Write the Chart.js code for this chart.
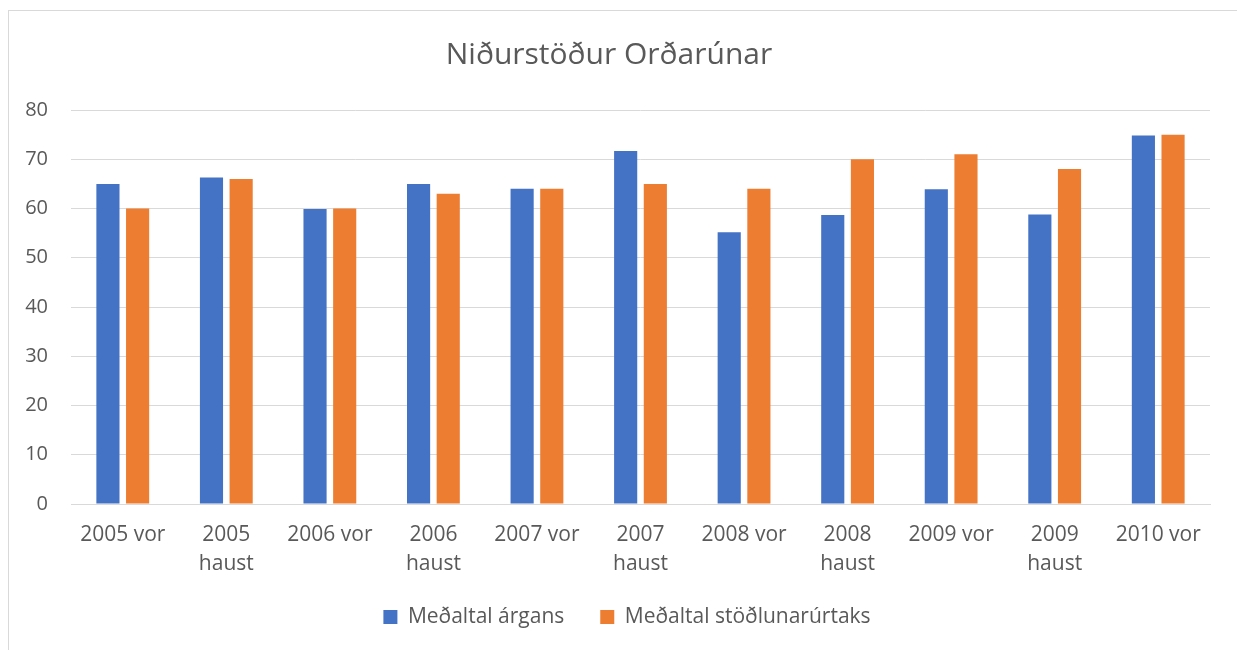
<!DOCTYPE html>
<html>
<head>
<meta charset="utf-8">
<script src="https://cdn.jsdelivr.net/npm/chart.js@4/dist/chart.umd.min.js"></script>
<style>
  html, body { margin: 0; padding: 0; background: #fff; }
  #wrap { position: absolute; left: 0; top: 0; width: 1237px; height: 650px; }
</style>
</head>
<body>
<div id="wrap"><canvas id="c" width="1237" height="650"></canvas></div>
<script>
const chartTitle = 'Niðurstöður Orðarúnar';
const categories = [
  '2005 vor', ['2005', 'haust'], '2006 vor', ['2006', 'haust'], '2007 vor', ['2007', 'haust'],
  '2008 vor', ['2008', 'haust'], '2009 vor', ['2009', 'haust'], '2010 vor'
];
const seriesNames = ['Meðaltal árgans', 'Meðaltal stöðlunarúrtaks'];
const argangur = [65, 66.3, 59.9, 65, 64, 71.7, 55.2, 58.7, 63.9, 58.8, 74.8];
const stodlun = [60, 66, 60, 63, 64, 65, 64, 70, 71, 68, 75];
const yTicks = [0, 10, 20, 30, 40, 50, 60, 70, 80];

const FONT = "'Open Sans', 'Noto Sans', sans-serif";
const TXT = '#595959';
const GRID = '#d9d9d9';

const framePlugin = {
  id: 'frame',
  afterLayout(chart) {
    if (chart.legend) {
      chart.legend.left += 18;
      chart.legend.right += 18;
    }
  },
  beforeDraw(chart) {
    const ctx = chart.ctx;
    ctx.save();
    ctx.fillStyle = '#fff';
    ctx.fillRect(0, 0, chart.width, chart.height);
    ctx.strokeStyle = GRID;
    ctx.lineWidth = 1;
    ctx.strokeRect(8.5, 10.5, chart.width + 5, chart.height + 5);
    ctx.restore();
  }
};

new Chart(document.getElementById('c'), {
  type: 'bar',
  data: {
    labels: categories,
    datasets: [
      { label: seriesNames[0], data: argangur, backgroundColor: '#4472C4', barPercentage: 0.78, categoryPercentage: 0.573 },
      { label: seriesNames[1], data: stodlun, backgroundColor: '#ED7D31', barPercentage: 0.78, categoryPercentage: 0.573 }
    ]
  },
  options: {
    responsive: false,
    animation: false,
    devicePixelRatio: 1,
    layout: { padding: { left: 8, right: 27, top: 37, bottom: 12.5 } },
    plugins: {
      title: {
        display: true, text: chartTitle, color: TXT,
        font: { family: FONT, size: 30, weight: '400' },
        padding: { top: 0, bottom: 37 }
      },
      legend: {
        position: 'bottom',
        labels: {
          color: TXT, font: { family: FONT, size: 21 },
          boxWidth: 14, boxHeight: 14, padding: 36
        }
      },
      tooltip: { enabled: false }
    },
    scales: {
      x: {
        afterFit(s) {
          s.height = 66.5;
          s._computeLabelArea = () => undefined;
        },
        grid: { display: false, drawTicks: false },
        border: { color: GRID, width: 1 },
        ticks: { color: TXT, font: { family: FONT, size: 21, lineHeight: 1.38 }, maxRotation: 0, autoSkip: false, padding: 17 }
      },
      y: {
        min: 0, max: 80,
        afterFit(s) { s.width = 63; },
        afterBuildTicks(s) { s.ticks = yTicks.map(v => ({ value: v })); },
        grid: { color: GRID, lineWidth: 1, drawTicks: false },
        border: { display: false },
        ticks: { color: TXT, font: { family: FONT, size: 20 }, padding: 23 }
      }
    }
  },
  plugins: [framePlugin]
});
</script>
</body>
</html>
